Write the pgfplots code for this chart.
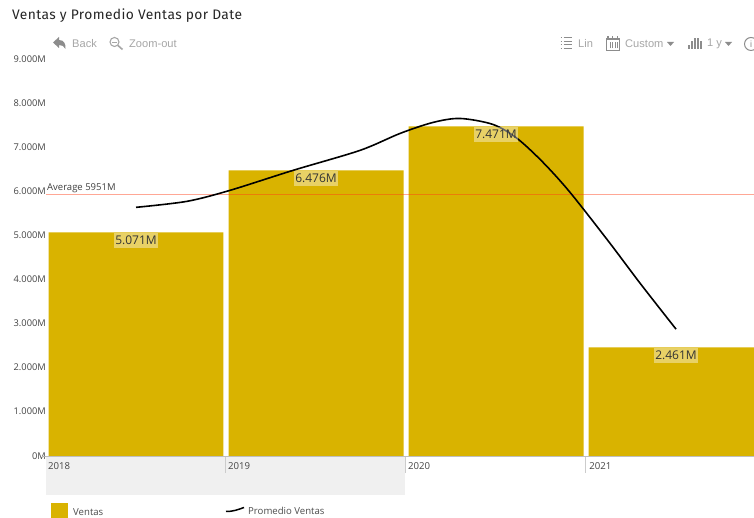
\documentclass[border=0pt]{standalone}
\usepackage{fontspec}
\setmainfont{Open Sans}
\newfontfamily\titlefont{Fira Sans}
\newfontfamily\toolfont{Liberation Sans}
\usepackage{pgfplots}
\pgfplotsset{compat=1.18}
\definecolor{barc}{HTML}{D9B300}
\definecolor{tickc}{HTML}{444444}
\definecolor{toolc}{HTML}{A6A6A6}
\definecolor{iconc}{HTML}{8C8C8C}
\begin{document}
\begin{tikzpicture}[x=1pt,y=1pt]
\clip (0,0) rectangle (754,518);
\fill[white] (0,0) rectangle (754,518);
% band under the axis
\fill[black!6] (46,23) rectangle (405,61);
\begin{axis}[
  at={(46pt,62pt)}, anchor=south west,
  scale only axis, width=708pt, height=397pt,
  xmin=-0.5, xmax=3.433, ymin=0, ymax=9,
  axis y line=left, axis x line=bottom,
  separate axis lines,
  x axis line style={draw=black!25,line width=0.8pt,-},
  y axis line style={draw=none},
  xtick={-0.489,0.511,1.511,2.517},
  xticklabels={2018,2019,2020,2021},
  ytick={0,1,2,3,4,5,6,7,8,9},
  yticklabels={0M\hspace{6pt},1.000M,2.000M,3.000M,4.000M,5.000M,6.000M,7.000M,8.000M,9.000M},
  major tick length=0pt,
  xticklabel style={anchor=north west,inner xsep=0pt,inner ysep=0pt,yshift=-6pt,font=\fontsize{9.6}{11}\selectfont,text=tickc},
  yticklabel style={anchor=east,inner xsep=0pt,yshift=0.3pt,font=\fontsize{9.3}{11}\selectfont,text=tickc},
  /pgf/number format/assume math mode=true,
  clip=true,
]
\addplot[ybar, bar width=0.972, fill=barc, draw=none,
  nodes near coords={\pgfmathprintnumber[fixed,fixed zerofill,precision=3]{\pgfplotspointmeta}M},
  every node near coord/.append style={anchor=north,yshift=-0.5pt,
    font=\fontsize{12}{14}\selectfont,text=black!80,
    fill=white,fill opacity=0.4,text opacity=1,inner xsep=1.5pt,inner ysep=3pt},
] coordinates {(0,5.071)(1,6.476)(2,7.471)(3,2.461)};
\addplot[draw={rgb,255:red,255;green,60;blue,20}, draw opacity=0.45, line width=1pt, forget plot] coordinates {(-0.5,5.93)(3.433,5.93)};
\addplot[black, line width=1.6pt, smooth, tension=0.5] coordinates {
(0,5.637)(0.283,5.773)(0.522,6.022)(0.872,6.475)(1.244,6.928)(1.467,7.313)(1.65,7.562)(1.8,7.652)
(1.983,7.516)(2.117,7.2)(2.261,6.656)(2.411,5.977)(2.633,4.822)
(2.8,3.917)(3,2.875)};
\end{axis}
\begin{scope}[shift={(0,518)},y=-1pt]
% year separators
\foreach \x in {225,405,585} \draw[black!20,line width=0.8pt] (\x,457) -- (\x,473);
\draw[black!30,line width=0.8pt] (42,456) -- (46,456);
% title and average label
\node[anchor=west,inner sep=0pt,text=black!85] at (12,15.5) {\titlefont\fontsize{13.8}{16}\selectfont\addfontfeature{LetterSpace=3}Ventas y Promedio Ventas por Date};
\node[anchor=west,inner sep=0pt,text=black!75] at (47,188) {\fontsize{9.5}{11}\selectfont Average 5951M};
% toolbar
\begin{scope}[toolc,font=\toolfont\fontsize{11.1}{13}\selectfont]
\node[anchor=west,inner sep=0pt] at (72,43.5) {Back};
\node[anchor=west,inner sep=0pt] at (129,43.5) {Zoom-out};
\node[anchor=west,inner sep=0pt] at (578,43.5) {Lin};
\node[anchor=west,inner sep=0pt] at (625,43.5) {Custom};
\node[anchor=west,inner sep=0pt] at (707,43.5) {1 y};
\end{scope}
% back arrow
\fill[iconc] (53,42.5) -- (59,37) -- (59,40) .. controls (64,40) and (66,44) .. (65.5,49) .. controls (64,46) and (62,45) .. (59,45) -- (59,48) -- cycle;
% magnifier
\draw[toolc,line width=1.1pt] (114.5,42) circle (4.5);
\draw[toolc,line width=1.6pt] (118,45.5) -- (122.5,49.5);
\draw[toolc,line width=0.9pt] (112,42) -- (117,42);
% list
\foreach \y in {37.5,41,44.5,48} {
  \draw[iconc,line width=0.8pt] (560.5,\y) -- (562,\y);
  \draw[iconc,line width=0.8pt] (563.5,\y) -- (572,\y);
}
% calendar
\draw[iconc,line width=1pt] (606,39) rectangle (619.5,50.5);
\fill[iconc] (606,38) rectangle (619.5,40.5);
\foreach \x in {608,612.7,617.4} \fill[iconc] (\x-0.7,36.5) rectangle (\x+0.7,40);
\draw[iconc,line width=0.5pt] (608.5,42.5) grid[step=2.5] (617.5,48.5);
% carets
\fill[iconc] (667,42) -- (674,42) -- (670.5,46) -- cycle;
\fill[iconc] (725,42) -- (732,42) -- (728.5,46) -- cycle;
% bars icon
\foreach \x/\t in {688/45,691/41,694/38,697/38.5,700/41} \fill[iconc] (\x,\t) rectangle (\x+2,49.5);
% info
\draw[iconc,line width=1pt] (751,44) circle (6.5);
\node[text=iconc,inner sep=0pt] at (751,44) {\toolfont\fontsize{9}{10}\selectfont i};
% legend
\fill[barc] (51,503) rectangle (68,518);
\node[anchor=west,inner sep=0pt,text=black!70] at (73,512.5) {\fontsize{9.6}{11}\selectfont Ventas};
\draw[black,line width=1.5pt] (226,511.5) .. controls (233,511.5) and (237,510) .. (244,507.5);
\node[anchor=west,inner sep=0pt,text=black!70] at (248,511) {\fontsize{9.6}{11}\selectfont Promedio Ventas};
\end{scope}
\end{tikzpicture}
\end{document}
